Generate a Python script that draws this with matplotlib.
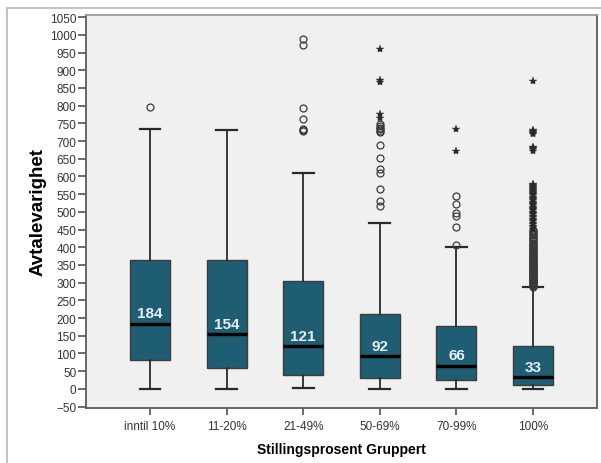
import matplotlib
matplotlib.use("Agg")
import matplotlib.pyplot as plt
from matplotlib.lines import Line2D

# Groups along the x axis
categories = ["inntil 10%", "11-20%", "21-49%", "50-69%", "70-99%", "100%"]

# Box statistics per group
medians = [184, 154, 121, 92, 66, 33]
q1 = [83, 58, 38, 31, 26, 12]
q3 = [365, 365, 306, 212, 177, 122]
whisker_low = [0, 0, 2, 0, 0, 0]
whisker_high = [733, 732, 610, 470, 400, 287]

# Outliers (circles) and extreme values (stars) per group
circles_g1 = [795]
circles_g2 = []
circles_g3 = [987, 972, 794, 761, 733, 730, 728]
circles_g4 = [748, 742, 737, 733, 729, 725, 689, 651, 620, 611, 565, 530, 516]
circles_g5 = [546, 521, 497, 489, 458, 406]
circles_g6 = [289, 291, 293, 295, 297, 299, 301, 303, 305, 307, 309, 311, 313,
              315, 317, 319, 321, 323, 325, 327, 330, 332, 334, 336, 338, 341,
              343, 345, 348, 350, 352, 355, 357, 360, 362, 365, 367, 370, 372,
              375, 378, 380, 383, 386, 389, 392, 395, 398, 401, 404, 407, 410,
              413, 417, 420, 423, 427, 430, 434, 437, 441, 445, 449]
stars_g1 = []
stars_g2 = []
stars_g3 = []
stars_g4 = [960, 872, 868, 777, 766]
stars_g5 = [733, 671]
stars_g6 = [869, 731, 728, 725, 722, 720, 684, 681, 678, 673, 580, 577, 574,
            571, 568, 565, 562, 559, 556, 553, 550, 547, 543, 540, 536, 533,
            529, 526, 522, 519, 515, 511, 508, 504, 500, 497, 493, 489, 485,
            481, 477, 473, 469, 465, 461, 457, 453]

circles = [circles_g1, circles_g2, circles_g3, circles_g4, circles_g5, circles_g6]
stars = [stars_g1, stars_g2, stars_g3, stars_g4, stars_g5, stars_g6]

positions = list(range(1, len(categories) + 1))

fig = plt.figure(figsize=(6.01, 4.64), dpi=100)
fig.patch.set_facecolor("white")

# Light outer frame along the left and top edges
W, H = 601, 464
fig.add_artist(Line2D([7 / W, 7 / W], [0, 1 - 9 / H], transform=fig.transFigure,
                      color="#BDBDBD", lw=1.3))
fig.add_artist(Line2D([7 / W, 1], [1 - 9 / H, 1 - 9 / H], transform=fig.transFigure,
                      color="#BDBDBD", lw=1.3))

ax = fig.add_axes([86 / W, 1 - 409 / H, (597 - 86) / W, (409 - 15.7) / H])
ax.set_facecolor("#F0F0F0")

stats = []
for i in range(len(categories)):
    stats.append(dict(med=medians[i], q1=q1[i], q3=q3[i],
                      whislo=whisker_low[i], whishi=whisker_high[i],
                      fliers=[], label=categories[i]))

ax.bxp(stats, positions=positions, widths=0.52, patch_artist=True,
       showfliers=False,
       boxprops=dict(facecolor="#1E5D72", edgecolor="#3C3C3C", linewidth=1.0),
       medianprops=dict(color="black", linewidth=2.4),
       whiskerprops=dict(color="#2A2A2A", linewidth=1.3),
       capprops=dict(color="#2A2A2A", linewidth=1.6),
       capwidths=0.27, zorder=2)

for pos, vals in zip(positions, circles):
    if vals:
        ax.plot([pos] * len(vals), vals, linestyle="none", marker="o",
                markersize=5, markerfacecolor="none", markeredgecolor="#3A3A3A",
                markeredgewidth=0.9, zorder=3)
for pos, vals in zip(positions, stars):
    if vals:
        ax.plot([pos] * len(vals), vals, linestyle="none", marker="*",
                markersize=6, color="#2A2A2A", markeredgewidth=0.3, zorder=3)

# Median values printed inside the boxes
for pos, med in zip(positions, medians):
    ax.annotate(f"{med}", xy=(pos, med), xytext=(0, 2.5), textcoords="offset points",
                ha="center", va="bottom", fontsize=11, fontweight="bold",
                color="#E6EFF4", fontfamily="Liberation Sans", zorder=4)

ax.set_xlim(0.165, 6.835)
ax.set_ylim(-54, 1057)
ax.set_xticks(positions)
ax.set_xticklabels(categories)
ax.set_yticks(range(-50, 1051, 50))

for lbl in ax.get_xticklabels() + ax.get_yticklabels():
    lbl.set_fontfamily("Liberation Sans")
    lbl.set_fontsize(8.5)
    lbl.set_color("#333333")

ax.tick_params(axis="y", direction="out", length=6, width=1.1, color="#444444", pad=1)
ax.tick_params(axis="x", direction="out", length=5, width=1.1, color="#444444", pad=4)

for side in ["left", "bottom", "right", "top"]:
    ax.spines[side].set_color("#5A5A5A")
    ax.spines[side].set_linewidth(1.3)
ax.spines["top"].set_color("#9A9A9A")

ax.set_ylabel("Avtalevarighet", fontsize=13.5, fontweight="bold",
              fontfamily="Liberation Sans", labelpad=2)
ax.set_xlabel("Stillingsprosent Gruppert", fontsize=10, fontweight="bold",
              fontfamily="Liberation Sans", labelpad=7)

fig.savefig("out.png", dpi=100)
